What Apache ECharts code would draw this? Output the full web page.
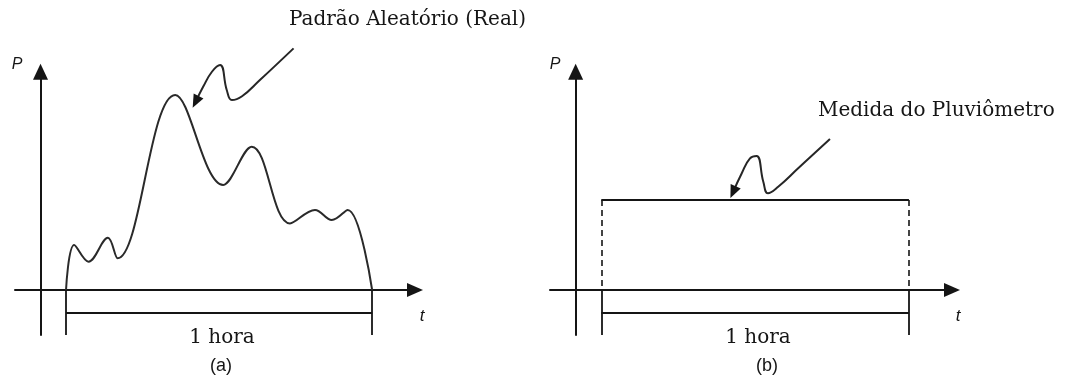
<!DOCTYPE html>
<html>
<head>
<meta charset="utf-8">
<title>Padrão aleatório x medida do pluviômetro</title>
<script src="https://cdn.jsdelivr.net/npm/echarts@6/dist/echarts.min.js"></script>
<style>
    html, body { margin: 0; padding: 0; background: #fff; }
    #chart { width: 1086px; height: 383px; }
</style>
</head>
<body>
<div id="chart"></div>
<script>
// Time in minutes (y axis at t = 0), rain intensity P in arbitrary units
var windowStart = 5;
var windowEnd = 65;

// (a) real random pattern: peaks and dips
var curveTime = [5, 6.6, 9.4, 13.2, 15.1, 26.4, 35.8, 41.4, 48.9, 53.8, 57.1, 60.2, 65];
var curveP = [0, 2.0, 1.26, 2.32, 1.41, 8.67, 4.67, 6.37, 2.96, 3.56, 3.11, 3.56, 0];

// (b) rain gauge measure (mean over the hour)
var gaugeLevel = 4;

// Annotation arrows (squiggle towards the curve)
var arrowATime = [49.6, 43.0, 39.5, 37.5, 36.5, 35.2, 33.6, 31.9, 30.4];
var arrowAP = [10.74, 9.33, 8.61, 8.44, 8.89, 10.0, 9.70, 9.04, 8.36];
var arrowBTime = [49.6, 43.4, 39.5, 37.5, 36.6, 35.3, 34.0, 32.4, 30.7];
var arrowBP = [6.71, 5.41, 4.59, 4.30, 4.81, 5.96, 5.85, 5.19, 4.35];

// Labels
var labelCurve = 'Padrão Aleatório (Real)';
var labelGauge = 'Medida do Pluviômetro';
var labelWindow = '1 hora';
var panelNames = ['(a)', '(b)'];

var _rainPatternExample = function () {
    if (typeof echarts == 'undefined') {
        console.warn('Warning - echarts.min.js is not loaded.');
        return;
    }

    // Define element
    var chart_element = document.getElementById('chart');
    if (!chart_element) {
        return;
    }

    // Initialize chart
    var chart = echarts.init(chart_element);

    var ink = '#151515';
    var serif = '"DejaVu Serif", serif';
    var sans = '"Liberation Sans", Arial, sans-serif';

    var pairs = function (xs, ys) {
        return xs.map(function (x, i) { return [x, ys[i]]; });
    };

    // Arrow series: smooth line, triangle head on last point
    var arrowSeries = function (xs, ys, idx, rotate) {
        var data = pairs(xs, ys);
        var last = data.pop();
        data.push({
            value: last,
            symbol: 'triangle',
            symbolSize: [11, 13],
            symbolRotate: rotate,
            itemStyle: { color: ink }
        });
        return {
            type: 'line',
            xAxisIndex: idx,
            yAxisIndex: idx,
            data: data,
            smooth: 0.45,
            clip: false,
            symbol: 'none',
            showSymbol: true,
            silent: true,
            lineStyle: { color: '#262626', width: 2 },
            z: 5
        };
    };

    var axisX = function (idx) {
        return {
            type: 'value',
            gridIndex: idx,
            min: -5,
            max: 73.4,
            axisLine: {
                show: true,
                onZero: true,
                symbol: ['none', 'triangle'],
                symbolSize: [14, 16],
                lineStyle: { color: ink, width: 2 }
            },
            axisTick: { show: false },
            axisLabel: { show: false },
            splitLine: { show: false }
        };
    };

    var axisY = function (idx) {
        return {
            type: 'value',
            gridIndex: idx,
            min: -2,
            max: 9.7,
            axisLine: {
                show: true,
                onZero: true,
                symbol: ['none', 'triangle'],
                symbolSize: [15, 16],
                lineStyle: { color: ink, width: 2 }
            },
            axisTick: { show: false },
            axisLabel: { show: false },
            splitLine: { show: false }
        };
    };

    // Bracket under the axis: "1 hora"
    var bracket = function (idx) {
        return {
            type: 'lines',
            coordinateSystem: 'cartesian2d',
            xAxisIndex: idx,
            yAxisIndex: idx,
            silent: true,
            lineStyle: { color: ink, width: 1.8, opacity: 1 },
            data: [
                { coords: [[windowStart, 0], [windowStart, -2]] },
                { coords: [[windowEnd, 0], [windowEnd, -2]] },
                { coords: [[windowStart, -1], [windowEnd, -1]] }
            ]
        };
    };

    var text = function (str, x, y, font, align) {
        return {
            type: 'text',
            x: x,
            y: y,
            silent: true,
            style: {
                text: str,
                font: font,
                fill: ink,
                align: align || 'center',
                verticalAlign: 'middle'
            }
        };
    };

    // Options
    chart.setOption({
        animation: false,
        backgroundColor: '#fff',

        grid: [
            { left: 15, top: 71.75, width: 400, height: 263.25 },
            { left: 550, top: 71.75, width: 402, height: 263.25 }
        ],

        xAxis: [axisX(0), axisX(1)],
        yAxis: [axisY(0), axisY(1)],

        graphic: [
            text(labelCurve, 289, 20, '20px ' + serif, 'left'),
            text(labelGauge, 818, 111, '20px ' + serif, 'left'),
            text(labelWindow, 222, 338, '20px ' + serif),
            text(labelWindow, 758, 338, '20px ' + serif),
            text(panelNames[0], 221, 366, '18px ' + sans),
            text(panelNames[1], 767, 366, '18px ' + sans),
            text('P', 17, 65, 'italic 16px ' + sans),
            text('P', 555, 65, 'italic 16px ' + sans),
            text('t', 422, 316, 'italic 17px ' + sans),
            text('t', 958, 316, 'italic 17px ' + sans)
        ],

        series: [
            // (a) real pattern
            {
                type: 'line',
                xAxisIndex: 0,
                yAxisIndex: 0,
                data: pairs(curveTime, curveP),
                smooth: 0.38,
                symbol: 'none',
                silent: true,
                lineStyle: { color: '#2a2a2a', width: 2 },
                z: 4
            },
            bracket(0),
            arrowSeries(arrowATime, arrowAP, 0, 153),

            // (b) gauge measure
            {
                type: 'lines',
                coordinateSystem: 'cartesian2d',
                xAxisIndex: 1,
                yAxisIndex: 1,
                silent: true,
                lineStyle: { color: ink, width: 2, opacity: 1 },
                data: [
                    { coords: [[windowStart, gaugeLevel], [windowEnd, gaugeLevel]] }
                ]
            },
            {
                type: 'lines',
                coordinateSystem: 'cartesian2d',
                xAxisIndex: 1,
                yAxisIndex: 1,
                silent: true,
                lineStyle: { color: ink, width: 1.6, type: [6, 4], opacity: 1 },
                data: [
                    { coords: [[windowStart, gaugeLevel], [windowStart, 0]] },
                    { coords: [[windowEnd, gaugeLevel], [windowEnd, 0]] }
                ]
            },
            bracket(1),
            arrowSeries(arrowBTime, arrowBP, 1, 156)
        ]
    });

    // Resize function
    window.addEventListener('resize', function () {
        chart.resize();
    });
};

_rainPatternExample();
</script>
</body>
</html>
